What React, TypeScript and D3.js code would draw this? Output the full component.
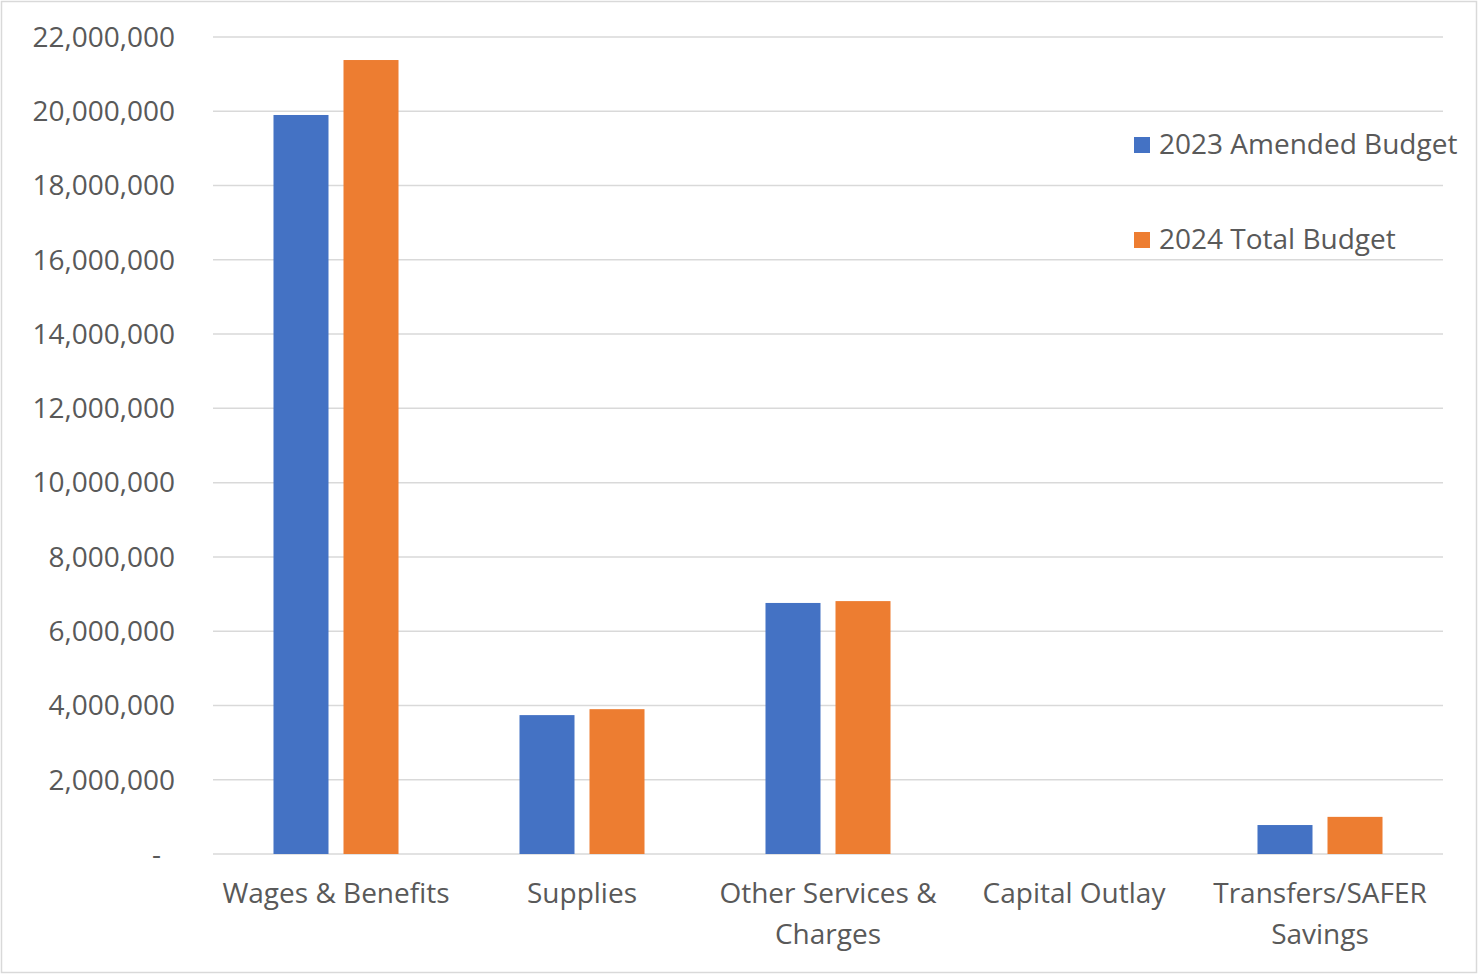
import React from "react";
import * as d3 from "d3";

const categories = ["Wages & Benefits", "Supplies", "Other Services & Charges", "Capital Outlay", "Transfers/SAFER Savings"];
const categoryLines = [["Wages & Benefits"], ["Supplies"], ["Other Services &", "Charges"], ["Capital Outlay"], ["Transfers/SAFER", "Savings"]];
const seriesNames = ["2023 Amended Budget", "2024 Total Budget"];
const seriesColors = ["#4472C4", "#ED7D31"];
const amended2023 = [19900000, 3740000, 6760000, 0, 780000];
const total2024 = [21380000, 3900000, 6810000, 0, 1000000];
const yTicks = [0, 2000000, 4000000, 6000000, 8000000, 10000000, 12000000, 14000000, 16000000, 18000000, 20000000, 22000000];

const W = 1480;
const H = 974;
const FONT = "'Open Sans', 'Noto Sans', sans-serif";
const TEXT = "#595959";
const FS = 28;

export default function App() {
  const left = 213, right = 1443, top = 37, bottom = 854;
  const x0 = d3.scaleBand<string>().domain(categories).range([left, right]).paddingInner(0.4918).paddingOuter(0.2459);
  const x1 = d3.scaleBand<string>().domain(seriesNames).range([0, x0.bandwidth()]).paddingInner(15 / 70).paddingOuter(0);
  const y = d3.scaleLinear().domain([0, 22000000]).range([bottom, top]);
  const fmt = d3.format(",");
  const series = [amended2023, total2024];

  return (
    <svg width={W} height={H} style={{ position: "absolute", left: 0, top: 0, background: "#fff" }} fontFamily={FONT}>
      <rect x={1.5} y={1.5} width={W - 5} height={H - 3} fill="#fff" stroke="#d9d9d9" strokeWidth={1.5} />
      {yTicks.map((t) => (
        <g key={t}>
          <line x1={left} x2={right} y1={y(t)} y2={y(t)} stroke="#d9d9d9" strokeWidth={1.5} />
          <text
            x={t === 0 ? 161 : 175}
            y={y(t)}
            dy="0.35em"
            textAnchor="end"
            fontSize={FS}
            fill={TEXT}
          >
            {t === 0 ? "-" : fmt(t)}
          </text>
        </g>
      ))}
      {categories.map((c, i) => (
        <g key={c} transform={`translate(${x0(c)},0)`}>
          {series.map((s, j) =>
            s[i] > 0 ? (
              <rect
                key={j}
                x={x1(seriesNames[j])}
                y={y(s[i])}
                width={x1.bandwidth()}
                height={y(0) - y(s[i])}
                fill={seriesColors[j]}
              />
            ) : null
          )}
        </g>
      ))}
      {categories.map((c, i) => (
        <text key={c} x={(x0(c) as number) + x0.bandwidth() / 2} y={903} textAnchor="middle" fontSize={FS} fill={TEXT}>
          {categoryLines[i].map((l, k) => (
            <tspan key={k} x={(x0(c) as number) + x0.bandwidth() / 2} dy={k === 0 ? 0 : 41}>
              {l}
            </tspan>
          ))}
        </text>
      ))}
      {seriesNames.map((n, j) => (
        <g key={n} transform={`translate(1134,${137 + j * 95})`}>
          <rect width={16} height={16} fill={seriesColors[j]} />
          <text x={25} y={7} dy="0.35em" fontSize={FS} fill={TEXT}>
            {n}
          </text>
        </g>
      ))}
    </svg>
  );
}
